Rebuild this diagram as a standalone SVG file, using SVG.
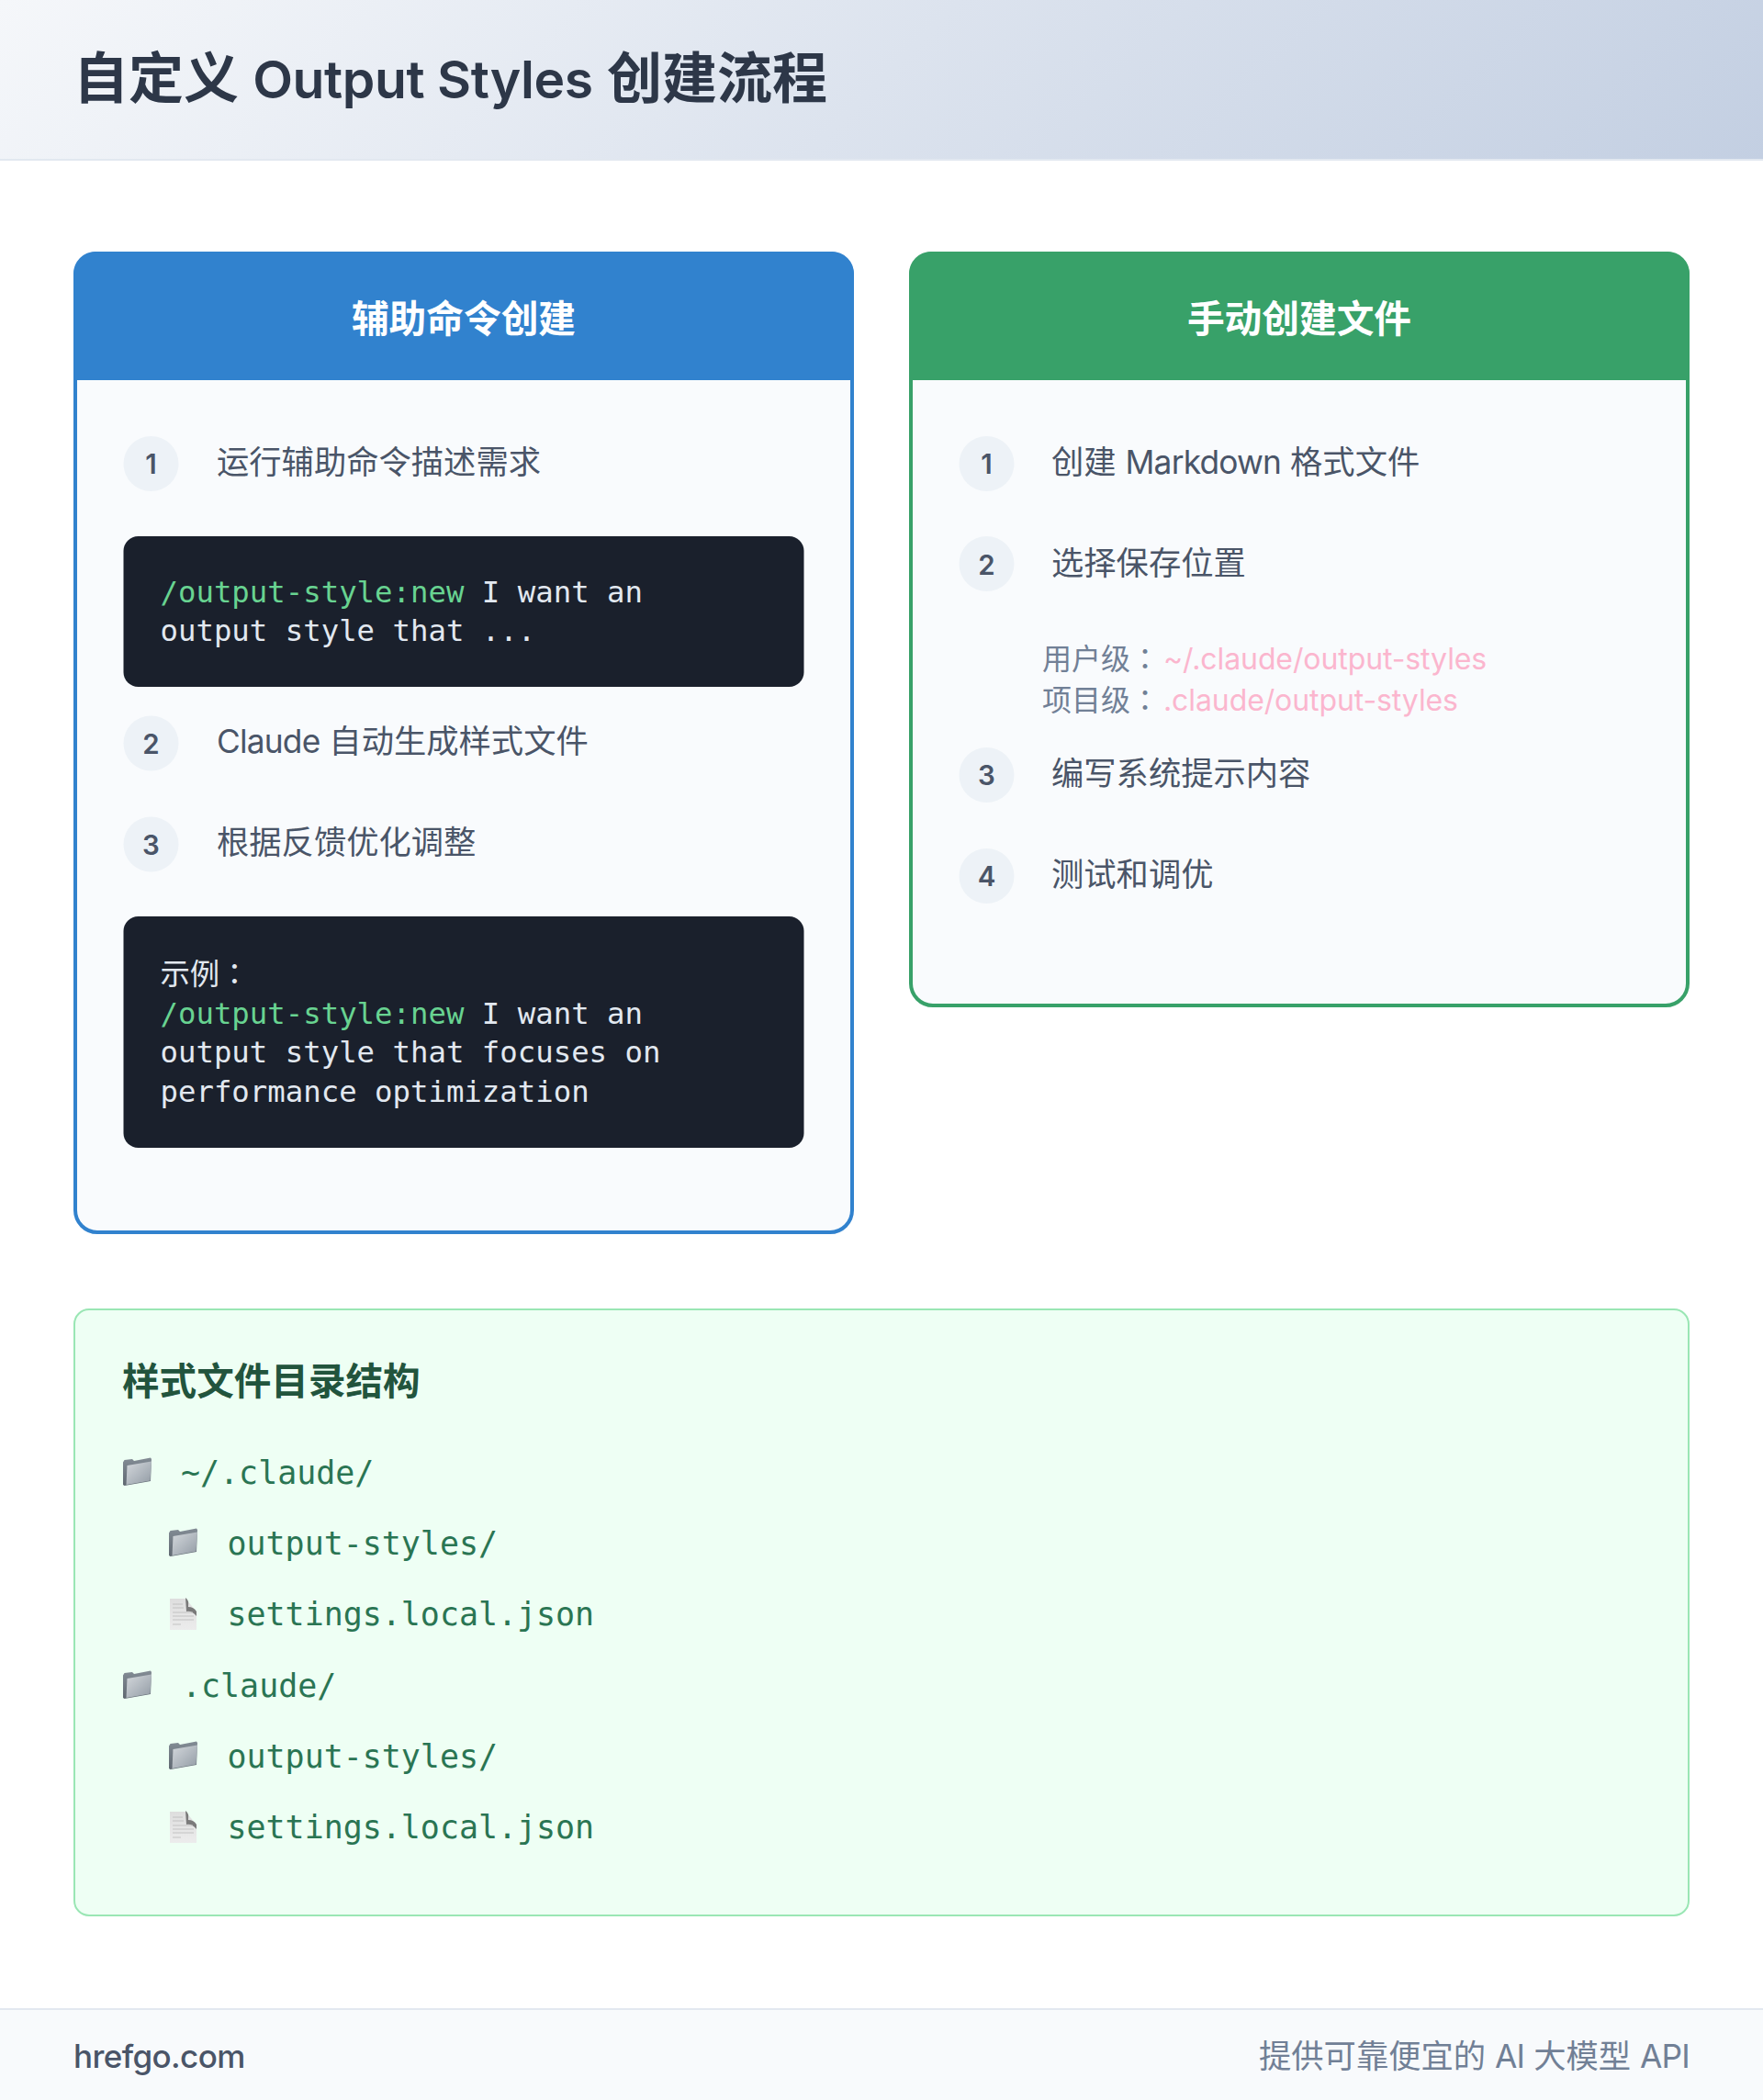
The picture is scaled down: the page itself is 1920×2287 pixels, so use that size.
<svg xmlns="http://www.w3.org/2000/svg" xmlns:xlink="http://www.w3.org/1999/xlink" width="1920" height="2287" viewBox="0 0 1920 2287">
<style>
text{font-family:Inter,"Noto Sans CJK SC",sans-serif;white-space:pre}
.title{font-size:60px;font-weight:600;fill:#2d3748}
.title .la{letter-spacing:-0.400px;font-size:57px}
.ch{font-size:40.700px;font-weight:600;fill:#fff;text-anchor:middle}
.num{font-size:29.500px;font-weight:600;fill:#4a5568;text-anchor:middle}
.st{font-size:35.300px;fill:#4a5568}
.la{letter-spacing:-0.800px}
.cn{font-family:"Noto Sans CJK TC",sans-serif}
.code{font-family:"DejaVu Sans Mono","Noto Sans CJK SC",monospace;font-size:32.350px;fill:#e2e8f0}
.kw{fill:#68d391}
.sm{font-size:32px;fill:#718096}
.pk{fill:#fbb6ce;letter-spacing:-0.100px}
.dirh{font-size:40.600px;font-weight:600;fill:#22543d}
.tr{font-family:"DejaVu Sans Mono",monospace;font-size:34.950px;fill:#2a7553}
.circ{fill:#edf2f7}
.blk{fill:#1a202c}
.panel{fill:#f9fbfd}
</style>
<defs>
<linearGradient id="hg" gradientUnits="userSpaceOnUse" x1="436.500" y1="-436.500" x2="1483.500" y2="610.500"><stop offset="0" stop-color="#f5f7fa"/><stop offset="1" stop-color="#c3cfe2"/></linearGradient>
<linearGradient id="ff" x1="0" y1="0" x2="1" y2="1"><stop offset="0" stop-color="#d4d8dc"/><stop offset="0.55" stop-color="#b0b7be"/><stop offset="1" stop-color="#929ba4"/></linearGradient>
<linearGradient id="fb" x1="0" y1="0" x2="0" y2="1"><stop offset="0" stop-color="#838c95"/><stop offset="1" stop-color="#5f6871"/></linearGradient>
<linearGradient id="fp" x1="0" y1="0" x2="0" y2="1"><stop offset="0" stop-color="#dedede"/><stop offset="1" stop-color="#ececec"/></linearGradient>
<g id="folder">
<path d="M0 5.500L1.500 3L10 2L12 4L30 0.500L31 2L30 26L1.500 31L0 30Z" fill="url(#fb)"/>
<path d="M4.500 9L31 4.500L29.500 25.500L3.500 30Z" fill="url(#ff)"/>
</g>
<g id="file">
<path d="M0 1H17L29 15V35H0Z" fill="url(#fp)"/>
<path d="M17 0Q21 2 20 10Q26 10 29 15L29 20Q24 14 18 15Z" fill="#7a7a7a"/>
<path d="M3 7H14M3 11H15M3 16H25M3 20H26M3 24H26M3 29H12" stroke="#c2c2c2" stroke-width="1" fill="none"/>
</g>
</defs>
<rect width="1920" height="2287" fill="#fff"/>
<g id="header">
<rect width="1920" height="174" fill="url(#hg)"/>
<rect y="173" width="1920" height="2" fill="#e2e8f0"/>
<text class="title" x="80" y="107">自定义 <tspan class="la">Output Styles</tspan> 创建流程</text>
</g>
<g id="card-assisted">
<rect class="panel" x="82" y="276" width="846" height="1066" rx="24" stroke="#3182ce" stroke-width="4"/>
<path d="M80 414V298A24 24 0 0 1 104 274H906A24 24 0 0 1 930 298V414Z" fill="#3182ce"/>
<text class="ch" x="505" y="362">辅助命令创建</text>
<g id="a-step1"><ellipse class="circ" cx="164.500" cy="505" rx="30" ry="30"/><text class="num" x="164.500" y="516">1</text><text class="st" x="236" y="516">运行辅助命令描述需求</text></g>
<g id="a-code1"><rect class="blk" x="134.500" y="584" width="741" height="164" rx="16"/>
<text class="code" x="174.500" y="656"><tspan class="kw">/output-style:new</tspan> I want an</text>
<text class="code" x="174.500" y="698">output style that ...</text></g>
<g id="a-step2"><ellipse class="circ" cx="164.500" cy="809.500" rx="30" ry="30"/><text class="num" x="164.500" y="820.500">2</text><text class="st" x="236" y="820"><tspan class="la">Claude</tspan> 自动生成样式文件</text></g>
<g id="a-step3"><ellipse class="circ" cx="164.500" cy="919.500" rx="30" ry="30"/><text class="num" x="164.500" y="930.500">3</text><text class="st" x="236" y="930">根据反馈优化调整</text></g>
<g id="a-code2"><rect class="blk" x="134.500" y="998" width="741" height="252" rx="16"/>
<text class="code" x="174.500" y="1072">示例<tspan class="cn">：</tspan></text>
<text class="code" x="174.500" y="1115"><tspan class="kw">/output-style:new</tspan> I want an</text>
<text class="code" x="174.500" y="1157">output style that focuses on</text>
<text class="code" x="174.500" y="1200">performance optimization</text></g>
</g>
<g id="card-manual">
<rect class="panel" x="992" y="276" width="846" height="819" rx="24" stroke="#38a169" stroke-width="4"/>
<path d="M990 414V298A24 24 0 0 1 1014 274H1816A24 24 0 0 1 1840 298V414Z" fill="#38a169"/>
<text class="ch" x="1415" y="362">手动创建文件</text>
<g id="m-step1"><ellipse class="circ" cx="1074.500" cy="505" rx="30" ry="30"/><text class="num" x="1074.500" y="516">1</text><text class="st" x="1145" y="516">创建 <tspan class="la">Markdown</tspan> 格式文件</text></g>
<g id="m-step2"><ellipse class="circ" cx="1074.500" cy="614" rx="30" ry="30"/><text class="num" x="1074.500" y="626">2</text><text class="st" x="1145" y="626">选择保存位置</text></g>
<g id="m-paths">
<text class="sm" x="1135" y="729">用户级<tspan class="cn">：</tspan><tspan class="pk" x="1267">~/.claude/output-styles</tspan></text>
<text class="sm" x="1135" y="774">项目级<tspan class="cn">：</tspan><tspan class="pk" x="1267">.claude/output-styles</tspan></text>
</g>
<g id="m-step3"><ellipse class="circ" cx="1074.500" cy="844" rx="30" ry="30"/><text class="num" x="1074.500" y="855">3</text><text class="st" x="1145" y="855">编写系统提示内容</text></g>
<g id="m-step4"><ellipse class="circ" cx="1074.500" cy="954" rx="30" ry="30"/><text class="num" x="1074.500" y="965">4</text><text class="st" x="1145" y="965">测试和调优</text></g>
</g>
<g id="directory">
<rect x="81" y="1426" width="1758" height="660" rx="16" fill="#eefff4" stroke="#9ae6b4" stroke-width="2"/>
<text class="dirh" x="133" y="1519">样式文件目录结构</text>
<use xlink:href="#folder" href="#folder" x="134" y="1587"/><text class="tr" x="197" y="1616">~/.claude/</text>
<use xlink:href="#folder" href="#folder" x="184" y="1664"/><text class="tr" x="247.500" y="1693">output-styles/</text>
<use xlink:href="#file" href="#file" x="185" y="1740"/><text class="tr" x="247.500" y="1770">settings.local.json</text>
<use xlink:href="#folder" href="#folder" x="134" y="1819"/><text class="tr" x="198" y="1848">.claude/</text>
<use xlink:href="#folder" href="#folder" x="184" y="1896"/><text class="tr" x="247.500" y="1925">output-styles/</text>
<use xlink:href="#file" href="#file" x="185" y="1972"/><text class="tr" x="247.500" y="2002">settings.local.json</text>
</g>
<g id="footer">
<rect y="2188" width="1920" height="99" fill="#f8fafc"/>
<rect y="2187" width="1920" height="2" fill="#e2e8f0"/>
<text x="80" y="2252" font-size="35" font-weight="500" fill="#4a5568" letter-spacing="-0.600">hrefgo.com</text>
<text x="1840" y="2252" font-size="35.300" fill="#718096" text-anchor="end">提供可靠便宜的 <tspan class="la">AI</tspan> 大模型 <tspan class="la">API</tspan></text>
</g>
</svg>
